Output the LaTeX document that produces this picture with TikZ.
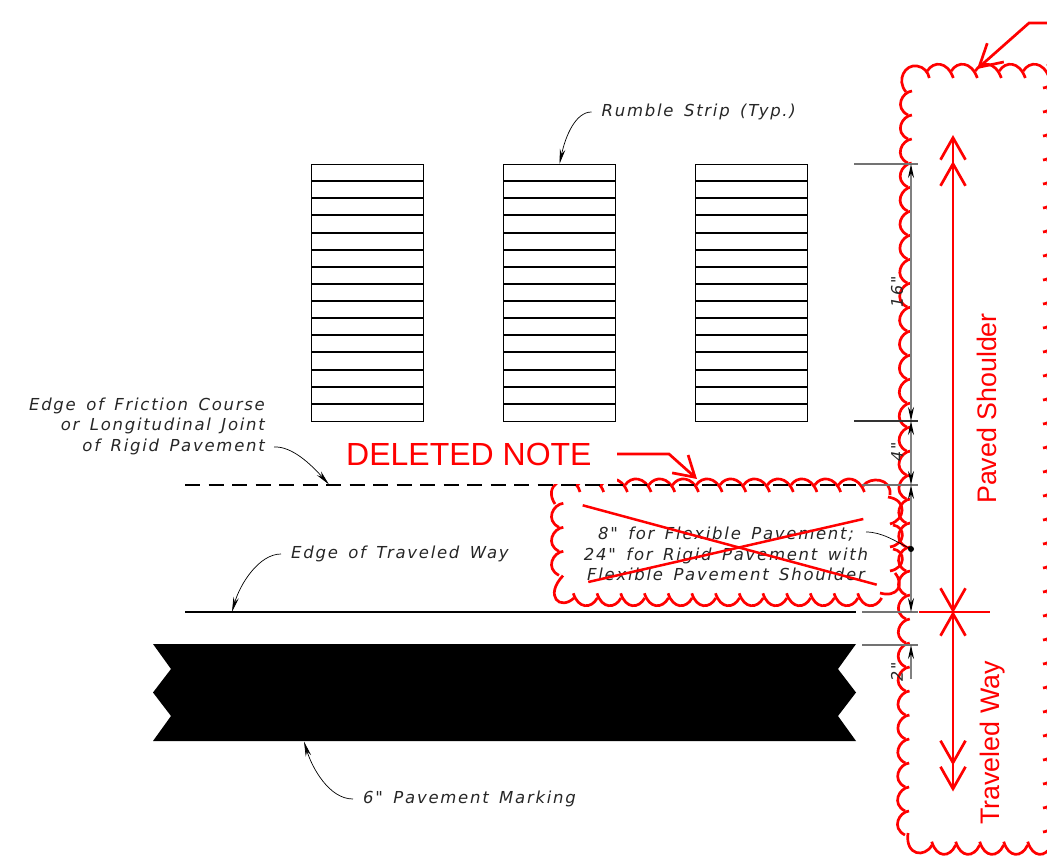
\documentclass[tikz,border=0pt]{standalone}
\usepackage{fontspec}
\usepackage{xcolor}
\usetikzlibrary{arrows.meta}
\newfontfamily\drawfont[LetterSpace=10.5,WordSpace=1.5]{DejaVu Sans}
\newfontfamily\redfont{Liberation Sans}
\definecolor{cloudred}{RGB}{255,0,0}
\tikzset{
  lbl/.style={inner ysep=0pt,inner xsep=10pt,font=\drawfont\itshape\fontsize{16.5}{20.5}\selectfont,text=black!85},
  dimlbl/.style={inner sep=0pt,rotate=90,font=\drawfont\itshape\fontsize{16}{18}\selectfont,text=black!85},
  redlbl/.style={inner sep=0pt,text=cloudred,rotate=90,font=\redfont\fontsize{26.8}{30}\selectfont},
  leader/.style={draw=black,line width=0.7pt,-{Stealth[length=15pt,width=5.5pt]}},
  extline/.style={draw=black!55,line width=1.1pt},
  dimline/.style={draw=black!50,line width=1.2pt,{Stealth[length=14pt,width=6pt,black]}-{Stealth[length=14pt,width=6pt,black]}},
  stripbox/.style={draw=black,line width=1.5pt,outer sep=0pt},
  stripline/.style={draw=black,line width=1.2pt},
  cloud/.style={draw=cloudred,line width=2.7pt},
  redarrow/.style={draw=cloudred,line width=2.7pt},
}
\def\barb{Straight Barb[length=22pt,width=25pt,sep=0pt]}
\begin{document}
\begin{tikzpicture}[x=1pt,y=-1pt]
  \useasboundingbox (0,0) rectangle (1047,858);
  \clip (0,0) rectangle (1047,858);

  % Nube grande
  \draw[cloud] (906,92) .. controls (896,80) and (905,64) .. (917,66) .. controls (924,67) and (928,72) .. (929.3,78);
  \foreach \y in {91,115,...,811}{
    \pgfmathsetmacro{\tx}{912-3*(\y-91)/720}
    \draw[cloud] (\tx-4,\y+24) .. controls (\tx-18,\y+17) and (\tx-10,\y+1) .. (\tx,\y);
  }
  \draw[cloud] (932,845) .. controls (925,858) and (905,856) .. (908,833);
  \foreach \x in {953.3,977.3,...,1050}
    \draw[cloud] (\x-26,71) .. controls (\x-20,61) and (\x-6,61) .. (\x,78);
  \foreach \x in {931.7,955.7,...,1050}
    \draw[cloud] (\x+24,845) .. controls (\x+18,858) and (\x+5,858) .. (\x,841.7);
  \foreach \y in {88,112,...,832}
    \draw[cloud] (1047,\y-24) .. controls (1058,\y-20) and (1058,\y-2) .. (1043,\y);

  % Nube de la nota
  \draw[cloud] (555,504) .. controls (549,495) and (551,487) .. (557,483) .. controls (565,478) and (577,480) .. (580,492);
  \foreach \y in {503.3,527.3,551.3}
    \draw[cloud] (559,\y+24) .. controls (545,\y+17) and (553,\y+1) .. (563.3,\y);
  \draw[cloud] (574,598) .. controls (560,611) and (544,596) .. (563,575.6);
  \foreach \k in {1,...,12}{
    \pgfmathsetmacro{\tx}{580+23.7*\k}
    \draw[cloud] (\tx-26,485) .. controls (\tx-20,476) and (\tx-6,476) .. (\tx,492);
  }
  \draw[cloud] (863,486) .. controls (870,476) and (892,478) .. (890,495);
  \draw[cloud] (888,497) .. controls (908,500) and (905,520) .. (890,524);
  \foreach \y in {547,571}
    \draw[cloud] (893,\y-22) .. controls (906,\y-20) and (906,\y-3) .. (890,\y);
  \draw[cloud] (895,573) .. controls (905,585) and (897,598) .. (880,593);
  \foreach \k in {0,...,12}{
    \pgfmathsetmacro{\tx}{573.3+23.7*\k}
    \draw[cloud] (\tx+24,598) .. controls (\tx+18,609) and (\tx+5,609) .. (\tx,593.3);
  }
  % Tapa de la nota borrada
  \fill[white] (340,430) rectangle (617,484);

  % Franjas sonoras
  \foreach \i/\x in {1/311,2/503,3/695}{
    \node[stripbox,minimum width=112pt,minimum height=257pt,inner sep=0pt,anchor=north west] (strip\i) at (\x+0.4,164.5) {};
    \foreach \k in {1,...,14}
      \draw[stripline] (\x,{164+round(17.13*\k)}) -- (\x+112,{164+round(17.13*\k)});
  }
  \node[lbl,anchor=west] (rumbleLbl) at (591.5,112) {Rumble Strip (Typ.)};
  \coordinate (rumbleTip) at (559.5,164);
  \draw[leader] (rumbleLbl.west) .. controls +(-16,0) and +(6,-28) .. (rumbleTip);

  % Bordes
  \coordinate (frictionA) at (185,485);
  \coordinate (frictionB) at (856,485);
  \draw[black,line width=1.2pt,dash pattern=on 15pt off 8.5pt] (frictionA) -- (frictionB);
  \coordinate (wayA) at (185,612);
  \coordinate (wayB) at (856,612);
  \draw[black,line width=1.3pt] (wayA) -- (wayB);

  % Marca de pavimento
  \fill[black] (153,644) -- (856,644) -- (838,669) -- (856,692.5) -- (838,716) -- (856,741)
    -- (153,741) -- (171,716) -- (153,692.5) -- (171,669) -- cycle;

  % Lineas de extension y cotas
  \coordinate (extA) at (911,164);
  \coordinate (extB) at (911,421);
  \coordinate (extC) at (911,485);
  \coordinate (extD) at (911,612);
  \coordinate (extE) at (911,645);
  \coordinate (extF) at (911,679);
  \draw[extline] (854,164) -- (918,164);
  \draw[extline,black!80] (854,421) -- (918,421);
  \draw[extline] (862,485) -- (918,485);
  \draw[extline] (862,612) -- (918,612);
  \draw[extline] (862,645) -- (918,645);
  \draw[dimline] (extA) -- (extB);
  \draw[dimline] (extB) -- (extC);
  \draw[dimline] (extC) -- (extD);
  \draw[dimline,{Stealth[length=14pt,width=6pt,black]}-] (extE) -- (extF);
  \node[dimlbl] (dimA) at (897,292) {16"};
  \node[dimlbl] (dimB) at (897,452) {4"};
  \node[dimlbl] (dimC) at (897,672) {2"};

  % Etiquetas
  \node[lbl,anchor=east,align=right,inner xsep=0pt] (frictionLbl) at (265,426) {Edge of Friction Course\\or Longitudinal Joint\\of Rigid Pavement};
  \coordinate (frictionStart) at (274,447);
  \coordinate (frictionTip) at (329,484.5);
  \draw[leader] (frictionStart) .. controls +(18,-1) and +(-18,-20) .. (frictionTip);
  \node[lbl,anchor=west] (wayLbl) at (281,554) {Edge of Traveled Way};
  \coordinate (wayTip) at (232,612);
  \draw[leader] (wayLbl.west) .. controls +(-22,0) and +(8,-28) .. (wayTip);
  \node[lbl,anchor=west] (markLbl) at (353,799) {6" Pavement Marking};
  \coordinate (markTip) at (304,741.5);
  \draw[leader] (markLbl.west) .. controls +(-24,0) and +(8,26) .. (markTip);
  \node[lbl,inner xsep=0pt,align=center] (noteLbl) at (726,554) {8" for Flexible Pavement;\\24" for Rigid Pavement with\\Flexible Pavement Shoulder};
  \coordinate (noteStart) at (866,532);
  \coordinate (noteDot) at (911,549);
  \draw[line width=0.7pt] (noteStart) .. controls +(16,0) and +(-16,-8) .. (noteDot);
  \fill[black] (noteDot) circle (3pt);

  % Nota borrada
  \node[inner sep=0pt,anchor=base west,text=cloudred,font=\redfont\fontsize{32}{36}\selectfont] (deletedLbl) at (346,465) {DELETED NOTE};
  \coordinate (deletedA) at (617,454);
  \coordinate (deletedB) at (669,454);
  \coordinate (deletedTip) at (697,479);
  \draw[redarrow,-{Straight Barb[length=20pt,width=24pt]}] (deletedA) -- (deletedB) -- (deletedTip);
  \coordinate (cloudA) at (1047,23);
  \coordinate (cloudB) at (1029,23);
  \coordinate (cloudTip) at (977,69);
  \draw[redarrow,-{Straight Barb[length=22pt,width=25pt]}] (cloudA) -- (cloudB) -- (cloudTip);
  \draw[redarrow,line width=2.5pt] (582.7,505.3) -- (876.7,584.7);
  \draw[redarrow,line width=2.5pt] (588.3,582) -- (863.3,519);

  % Flechas rojas
  \coordinate (shoulderTop) at (953,135);
  \coordinate (shoulderEnd) at (953,613);
  \coordinate (wayStart) at (953,611);
  \coordinate (wayEnd) at (953,791.5);
  \coordinate (redLeft) at (919,612);
  \coordinate (redRight) at (990,612);
  \draw[redarrow] (redLeft) -- (redRight);
  \draw[redarrow,{\barb\barb}-{\barb}] (shoulderTop) -- (shoulderEnd);
  \draw[redarrow,{\barb}-{\barb\barb}] (wayStart) -- (wayEnd);
  \node[redlbl] (shoulderLbl) at (987,408.5) {Paved Shoulder};
  \node[redlbl,anchor=base] (travLbl) at (999,743) {Traveled Way};
\end{tikzpicture}
\end{document}
